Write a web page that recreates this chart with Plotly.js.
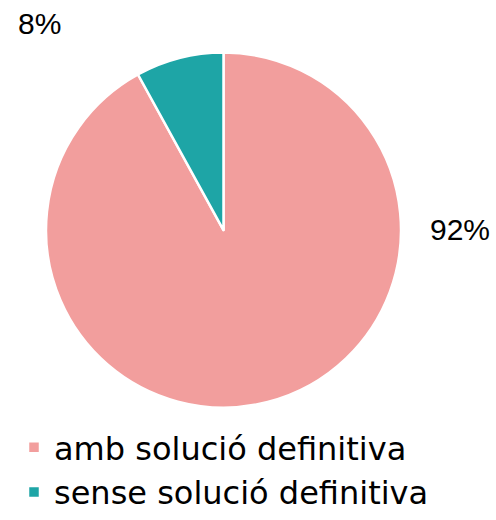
<!DOCTYPE html>
<html>
<head>
<meta charset="utf-8">
<script src="https://cdn.plot.ly/plotly-3.0.1.min.js"></script>
<style>html,body{margin:0;padding:0;background:#fff;}#chart{width:496px;height:520px;}</style>
</head>
<body>
<div id="chart"></div>
<script>
var categories = ["amb solució definitiva", "sense solució definitiva"];
var values = [92, 8];
var colors = ["#F29E9D", "#1EA5A6"];
var pctLabels = values.map(function(v){ return v + "%"; });

var trace = {
  type: "pie",
  labels: categories,
  values: values,
  sort: false,
  direction: "clockwise",
  rotation: 0,
  textinfo: "none",
  hoverinfo: "label+percent",
  marker: {colors: colors, line: {color: "#ffffff", width: 2.5}},
  domain: {x: [46/496, 401/496], y: [1 - 409/520, 1 - 52/520]}
};

var layout = {
  width: 496,
  height: 520,
  margin: {l: 0, r: 0, t: 0, b: 0},
  paper_bgcolor: "#ffffff",
  showlegend: true,
  legend: {
    x: 14/496, xanchor: "left",
    y: 1 - 421/520, yanchor: "top",
    font: {family: "DejaVu Sans", size: 32, color: "#000000"},
    bgcolor: "rgba(0,0,0,0)"
  },
  annotations: [
    {text: pctLabels[1], x: 39/496, y: 1 - 24/520, xref: "paper", yref: "paper",
     showarrow: false, xanchor: "center", yanchor: "middle",
     font: {family: "Liberation Sans", size: 30, color: "#000000"}},
    {text: pctLabels[0], x: 460/496, y: 1 - 230/520, xref: "paper", yref: "paper",
     showarrow: false, xanchor: "center", yanchor: "middle",
     font: {family: "Liberation Sans", size: 30, color: "#000000"}}
  ]
};

Plotly.newPlot("chart", [trace], layout, {displayModeBar: false, staticPlot: true});
</script>
</body>
</html>
